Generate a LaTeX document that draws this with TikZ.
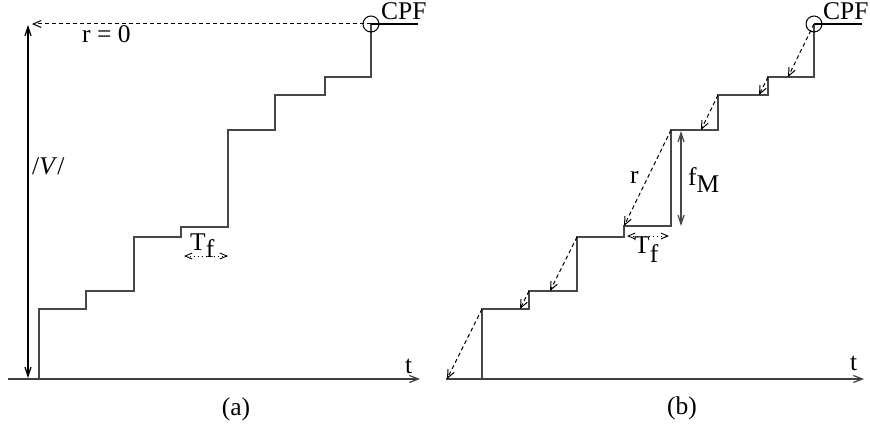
\documentclass[tikz,border=0pt]{standalone}
\usepackage{fontspec}
\setmainfont{Liberation Serif}
\usetikzlibrary{arrows.meta,calc}
\begin{document}
\begin{tikzpicture}[x=1pt,y=-1pt,
  stair/.style={draw=black!72,line width=1.2pt},
  axisarrow/.style={draw=black!75,line width=1.2pt,-{Straight Barb[length=9pt,width=7pt]}},
  vdouble/.style={draw=black,line width=1.2pt,{Straight Barb[length=9pt,width=6pt]}-{Straight Barb[length=9pt,width=6pt]}},
  fdouble/.style={draw=black!72,line width=1.2pt,{Straight Barb[length=9pt,width=6pt]}-{Straight Barb[length=9pt,width=6pt]}},
  dasharrow/.style={draw=black,line width=1pt,dash pattern=on 4pt off 3pt,-{Straight Barb[length=8pt,width=7pt]}},
  dotarrow/.style={draw=black,line width=0.9pt,dash pattern=on 1pt off 3pt,{Straight Barb[length=7pt,width=6pt]}-{Straight Barb[length=7pt,width=6pt]}},
  plainline/.style={draw=black,line width=1.2pt},
  lbl/.style={font=\fontsize{25.5}{30}\selectfont,inner sep=0pt,anchor=base west},
  clbl/.style={font=\fontsize{25.5}{30}\selectfont,inner sep=0pt,anchor=base},
  cpfcirc/.style={circle,draw=black,line width=1pt,minimum size=16pt,inner sep=0pt}
]
\useasboundingbox (0,0) rectangle (870,425);

% ---------- panel (a) ----------
\foreach \n/\x/\y in {0/39/379,1/39/309,2/86/309,3/86/291,4/134/291,5/134/237,6/181/237,7/181/227,8/228/227,9/228/130,10/275/130,11/275/95,12/325/95,13/325/77,14/371/77,15/371/24}
  \coordinate (a\n) at (\x,\y);
\coordinate (aO) at (8,379);
\coordinate (aT) at (420,379);
\coordinate (vTop) at (28,25);
\coordinate (vBot) at (28,378);
\coordinate (aDash) at (32,24);
\coordinate (aLineEnd) at (418,24);
\coordinate (aTfL) at (184,256);
\coordinate (aTfR) at (228,256);

\draw[axisarrow] (aO) -- (aT);
\draw[stair] (a0)--(a1)--(a2)--(a3)--(a4)--(a5)--(a6)--(a7)--(a8)--(a9)--(a10)--(a11)--(a12)--(a13)--(a14)--(a15);
\node[cpfcirc] (aC) at (a15) {};
\draw[plainline] (aC.center) -- (aLineEnd);
\draw[dasharrow] (aC.center) -- (aDash);
\draw[vdouble] (vBot) -- (vTop);
\draw[dotarrow] (aTfL) -- (aTfR);

\node[lbl] (aCPF) at (381,20) {CPF};
\node[lbl] (aR0) at (82,43) {r = 0};
\node[lbl] (aV) at (32,175) {/\textit{V}/};
\node[lbl] (aTf) at (190,250) {T\raisebox{-7pt}{f}};
\node[lbl] (at) at (405,373) {t};
\node[clbl] (aCap) at (236,415) {(a)};

% ---------- panel (b) ----------
\foreach \n/\x/\y in {0/482/379,1/482/309,2/529/309,3/529/291,4/577/291,5/577/237,6/624/237,7/624/226,8/671/226,9/671/130,10/718/130,11/718/95,12/768/95,13/768/77,14/814/77,15/814/24}
  \coordinate (b\n) at (\x,\y);
\coordinate (bO) at (446,379);
\coordinate (bT) at (864,379);
\coordinate (bLineEnd) at (862,24);
\coordinate (d1) at (788,77);
\coordinate (d2) at (759,95);
\coordinate (d3) at (701,130);
\coordinate (d5) at (550,291);
\coordinate (d6) at (520,309);
\coordinate (d7) at (447,379);
\coordinate (fTop) at (681,131);
\coordinate (fBot) at (681,226);
\coordinate (bTfL) at (627,236);
\coordinate (bTfR) at (669,236);

\draw[axisarrow] (bO) -- (bT);
\draw[stair] (b0)--(b1)--(b2)--(b3)--(b4)--(b5)--(b6)--(b7)--(b8)--(b9)--(b10)--(b11)--(b12)--(b13)--(b14)--(b15);
\node[cpfcirc] (bC) at (b15) {};
\draw[plainline] (bC.center) -- (bLineEnd);
\draw[dasharrow] (bC.center) -- (d1);
\draw[dasharrow] (b13) -- (d2);
\draw[dasharrow] (b11) -- (d3);
\draw[dasharrow] (b9) -- (b7);
\draw[dasharrow] (b5) -- (d5);
\draw[dasharrow] (b3) -- (d6);
\draw[dasharrow] (b1) -- (d7);
\draw[fdouble] (fTop) -- (fBot);
\draw[dotarrow] (bTfL) -- (bTfR);

\node[lbl] (bCPF) at (823,20) {CPF};
\node[lbl] (br) at (630,183) {r};
\node[lbl] (bfM) at (688,185) {f\raisebox{-8pt}{M}};
\node[lbl] (bTf) at (634,253) {T\raisebox{-9pt}{f}};
\node[lbl] (bt) at (850,370) {t};
\node[clbl] (bCap) at (682,414) {(b)};
\end{tikzpicture}
\end{document}
